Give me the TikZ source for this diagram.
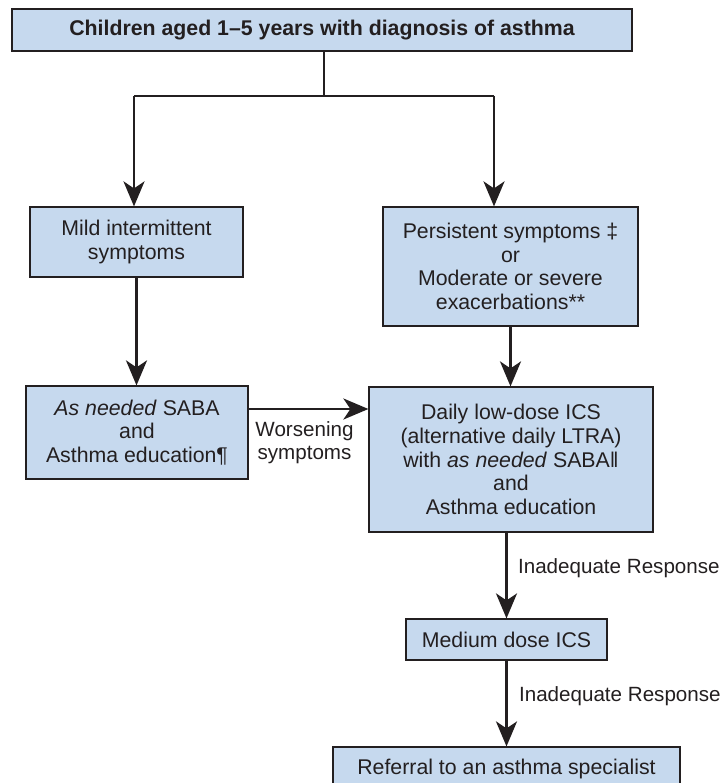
\documentclass[tikz,border=0pt]{standalone}
\usepackage{fontspec}
\setmainfont{Liberation Sans}
\usetikzlibrary{arrows.meta,positioning,calc}
\definecolor{boxblue}{RGB}{198,217,238}
\definecolor{ink}{RGB}{35,31,32}

\begin{document}
\begin{tikzpicture}[
  x=1pt,y=-1pt,
  box/.style={draw=ink,line width=1.2pt,fill=boxblue,text=ink,align=center,inner sep=0pt,font=\fontsize{21.3}{23.6}\selectfont},
  arr/.style={-{Stealth[length=25pt,width=21pt,inset=7pt]},line width=2.5pt,draw=ink},
  link/.style={line width=2.5pt,draw=ink},
  ann/.style={font=\fontsize{20.6}{23}\selectfont,text=ink,align=center}
]
\useasboundingbox (0,0) rectangle (727,783);
\node[box,minimum width=620pt,minimum height=42pt] (diag) at (322,30) {\bfseries Children aged 1--5 years with diagnosis of asthma};
\node[box,minimum width=213pt,minimum height=70pt] (mild) at (136.5,242) {Mild intermittent\\symptoms};
\node[box,minimum width=255pt,minimum height=119pt] (pers) at (510.5,266.5) {Persistent symptoms ‡\\or\\Moderate or severe\\exacerbations**};
\node[box,minimum width=222pt,minimum height=93pt] (saba) at (137,432.5) {\textit{As needed} SABA\\and\\Asthma education¶};
\node[box,minimum width=284pt,minimum height=145pt] (ics) at (511,459.5) {Daily low-dose ICS\\(alternative daily LTRA)\\with \textit{as needed} SABA‖\\and\\Asthma education};
\node[box,minimum width=201pt,minimum height=41pt] (medium) at (506.5,639.5) {Medium dose ICS};
\node[box,minimum width=347pt,minimum height=43pt] (referral) at (506.5,768.5) {Referral to an asthma specialist};
\coordinate (splitL) at (134,96);
\coordinate (splitR) at (494,96);
\draw[link] (diag.south -| 324,0) -- (324,96);
\draw[link] (splitL) -- (splitR);
\draw[arr] (splitL) -- (splitL |- mild.north);
\draw[arr] (splitR) -- (splitR |- pers.north);
\draw[arr] (mild.south) -- (mild.south |- saba.north);
\draw[arr] (pers.south) -- (pers.south |- ics.north);
\draw[arr] ([yshift=23.5pt]saba.east) -- ([yshift=23.5pt]saba.east -| ics.west)
  node[ann,midway,below=8pt,xshift=-4pt] (worse) {Worsening\\symptoms};
\draw[arr] (medium.north |- ics.south) -- (medium.north)
  node[ann,pos=0.42,right=7pt] (resp1) {Inadequate Response};
\draw[arr] (medium.south) -- (referral.north)
  node[ann,pos=0.42,right=8pt] (resp2) {Inadequate Response};
\end{tikzpicture}
\end{document}
